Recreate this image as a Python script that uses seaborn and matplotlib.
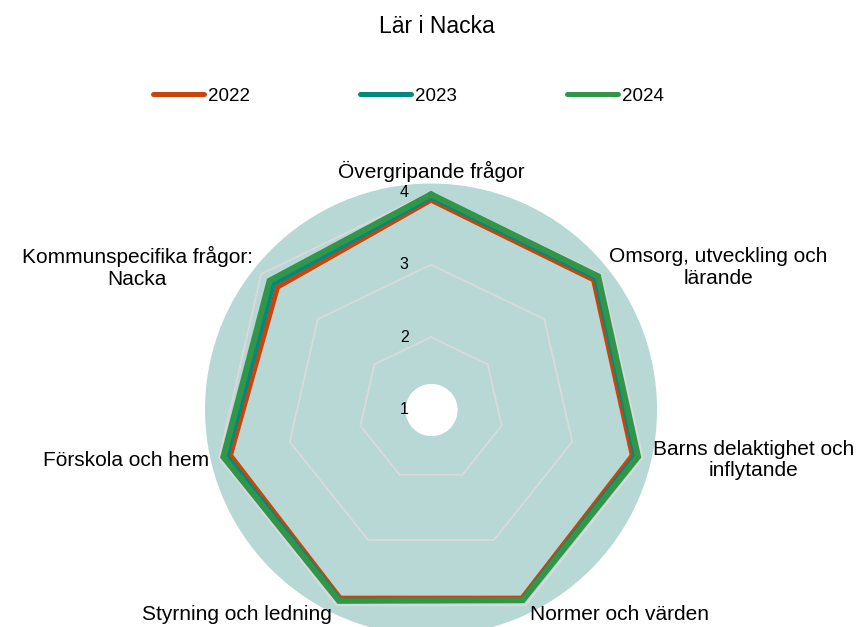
import matplotlib.pyplot as plt
import numpy as np
import pandas as pd
import seaborn as sns
from matplotlib.transforms import ScaledTranslation

categories = ['Övergripande frågor',
              'Omsorg, utveckling och\nlärande',
              'Barns delaktighet och\ninflytande',
              'Normer och värden',
              'Styrning och ledning',
              'Förskola och hem',
              'Kommunspecifika frågor:\nNacka']
years = ['2022', '2023', '2024']
v2022 = [3.89, 3.87, 3.85, 3.89, 3.89, 3.84, 3.71]
v2023 = [3.93, 3.91, 3.89, 3.91, 3.91, 3.89, 3.78]
v2024 = [3.97, 3.95, 3.93, 3.92, 3.93, 3.94, 3.85]
ring_ticks = [1, 2, 3, 4]

colors = {'2022': '#c8460c', '2023': '#00897f', '2024': '#31964a'}
widths = {'2022': 3.6, '2023': 3.4, '2024': 4.4}

n = len(categories)
theta = np.linspace(0, 2 * np.pi, n, endpoint=False)
theta_closed = np.append(theta, 2 * np.pi)

rows = []
for year, vals in zip(years, [v2022, v2023, v2024]):
    for t, v in zip(theta_closed, vals + vals[:1]):
        rows.append({'theta': t, 'value': v, 'year': year})
df = pd.DataFrame(rows)

sns.set_theme(style='white')
plt.rcParams['font.family'] = ['Liberation Sans', 'DejaVu Sans']

fig = plt.figure(figsize=(8.6, 6.27), dpi=100)
ax = fig.add_axes([0.2384, -0.0136, 0.5256, 0.7209], projection='polar')
ax.set_theta_zero_location('N')
ax.set_theta_direction(-1)
ax.set_facecolor('#b8d8d5')
ax.spines['polar'].set_visible(False)
ax.grid(False)
ax.set_ylim(1, 4.12)

# white hole in the middle
circ = np.linspace(0, 2 * np.pi, 200)
ax.fill_between(circ, 1, 1.36, color='white', lw=0, zorder=1)

# heptagon gridlines
for v in ring_ticks[1:]:
    ax.plot(theta_closed, [v] * (n + 1), color='#dadada', lw=1.3, zorder=2)

for year in years:
    sub = df[df['year'] == year]
    sns.lineplot(data=sub, x='theta', y='value', ax=ax, sort=False,
                 color=colors[year], lw=widths[year], label=year, zorder=3)
for line in ax.get_lines():
    line.set_solid_joinstyle('miter')

ax.set_xticks([])
ax.set_yticks([])
ax.set_xlabel('')
ax.set_ylabel('')

# radial labels along the top spoke
off = ax.transData + ScaledTranslation(-0.225, 0, fig.dpi_scale_trans)
for v in ring_ticks:
    ax.text(0, v, str(v), ha='right', va='center', fontsize=11.5,
            color='black', transform=off)

# category labels
rlab = 4.145
for t, lab in zip(theta, categories):
    deg = np.degrees(t)
    if deg < 1:
        ha, va = 'center', 'bottom'
    elif deg < 180:
        ha, va = 'left', 'center'
    else:
        ha, va = 'right', 'center'
    ax.text(t, rlab, lab, ha=ha, va=va, fontsize=15, color='black',
            multialignment='center', linespacing=1.15, clip_on=False)

handles, labels = ax.get_legend_handles_labels()
ax.get_legend().remove()
leg = fig.legend(handles, labels, ncol=3, loc='center',
                 bbox_to_anchor=(408.5 / 860, 1 - 96 / 627), frameon=False,
                 fontsize=13.5, handlelength=2.7, handletextpad=0.2,
                 columnspacing=5.9)
for txt in leg.get_texts():
    txt.set_color('black')
for line in leg.get_lines():
    line.set_linewidth(3.6)
    line.set_solid_capstyle('round')

fig.text(437 / 860, 1 - 33.3 / 627, 'Lär i Nacka', ha='center', va='baseline',
         fontsize=16.5, color='black')

fig.savefig('out.png', dpi=100)
